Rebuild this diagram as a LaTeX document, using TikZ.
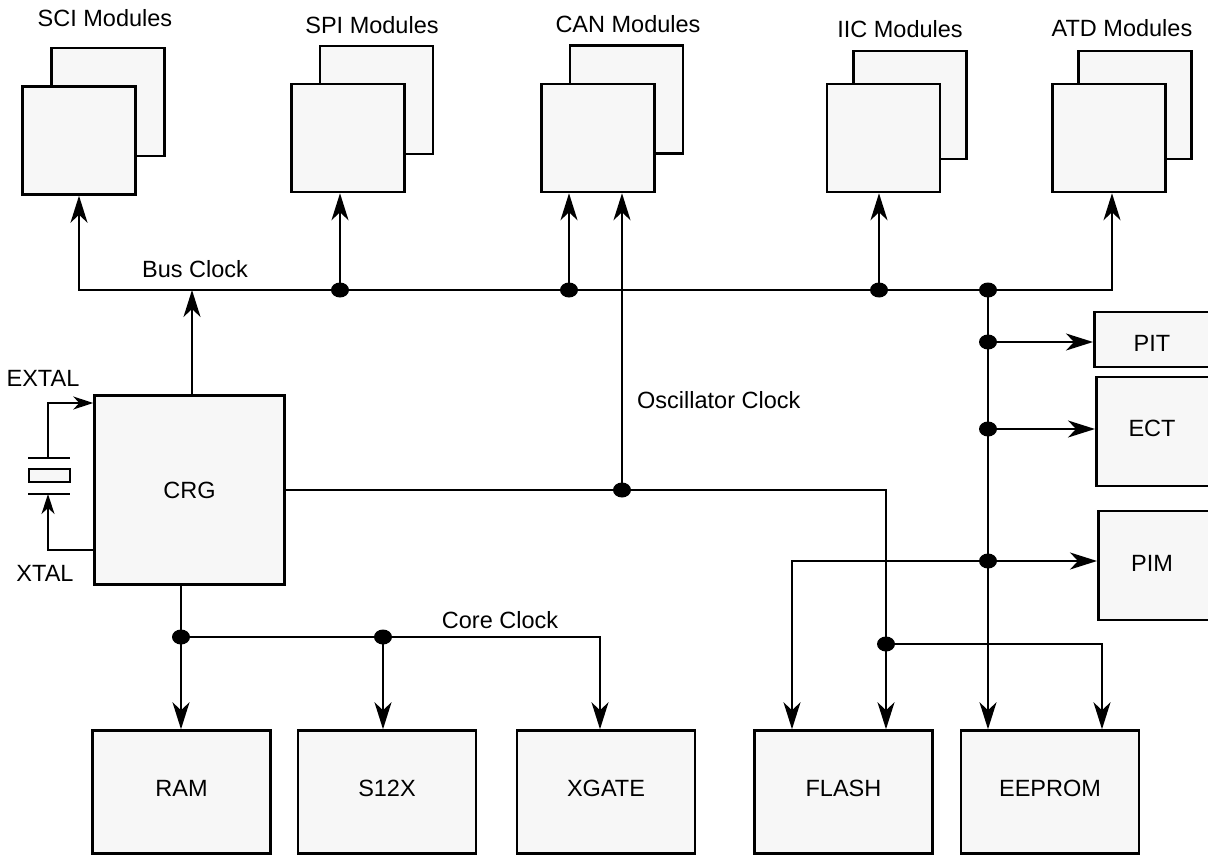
\documentclass[tikz,border=0pt]{standalone}
\usepackage{fontspec}
\setmainfont{Liberation Sans}
\usetikzlibrary{arrows.meta}
\definecolor{boxfill}{HTML}{F7F7F7}
\begin{document}
\begin{tikzpicture}[x=1pt,y=-1pt,
  txt/.style={font=\fontsize{23.5}{28}\selectfont},
  box/.style={draw, line width=2.5pt, fill=boxfill, inner sep=0pt, txt},
  modbox/.style={box, minimum width=113pt, minimum height=108pt},
  membox/.style={box, minimum width=178pt, minimum height=123pt},
  sidebox/.style={box, minimum width=160pt, anchor=west},
  lbl/.style={inner sep=0pt, txt},
  wire/.style={line width=2pt},
  bigtip/.tip={Stealth[length=27pt,width=17pt,inset=8pt]},
  arr/.style={wire, -bigtip},
  thinw/.style={line width=1.5pt},
  smalltip/.tip={Stealth[length=20pt,width=13pt,inset=6pt]},
  sarr/.style={thinw, -smalltip},
  jdot/.style={fill=black}
]
\useasboundingbox (0,0) rectangle (1208,856);
\clip (0,0) rectangle (1208,856);

% module stacks (back boxes first)
\node[modbox] (sciB) at (108,102) {};
\node[modbox] (sci) at (79,140.5) {};
\node[modbox] (spiB) at (376.5,100) {};
\node[modbox] (spi) at (348,138) {};
\node[modbox] (canB) at (626.5,99.5) {};
\node[modbox] (can) at (598,138) {};
\node[modbox] (iicB) at (910,105) {};
\node[modbox] (iic) at (883.5,138) {};
\node[modbox] (atdB) at (1135,105) {};
\node[modbox] (atd) at (1109,138) {};

\node[lbl] (sciL) at (105,18.5) {SCI Modules};
\node[lbl] (spiL) at (372,25) {SPI Modules};
\node[lbl] (canL) at (628,24) {CAN Modules};
\node[lbl] (iicL) at (900,29) {IIC Modules};
\node[lbl] (atdL) at (1122,28) {ATD Modules};

% CRG
\node[box, minimum width=190pt, minimum height=189pt] (crg) at (189.5,490) {CRG};

% memory / core boxes
\node[membox] (ram) at (181.5,792) {};
\node[membox] (s12x) at (387,792) {};
\node[membox] (xgate) at (606,792) {};
\node[membox] (flash) at (843.5,792) {};
\node[membox] (eeprom) at (1050,792) {};
\node[lbl] at (181.5,788) {RAM};
\node[lbl] at (387,788) {S12X};
\node[lbl] at (606,788) {XGATE};
\node[lbl] at (843.5,788) {FLASH};
\node[lbl] at (1050,788) {EEPROM};

% side boxes
\node[sidebox, minimum height=55pt] (pit) at (1093,339.5) {};
\node[sidebox, minimum height=109pt] (ect) at (1095,431.5) {};
\node[sidebox, minimum height=109pt] (pim) at (1097,565.5) {};
\node[lbl] at (1152,343) {PIT};
\node[lbl] at (1152,428) {ECT};
\node[lbl] at (1152,563) {PIM};

% bus clock
\coordinate (busL) at (79,290);
\coordinate (busR) at (1112,290);
\coordinate (jbus) at (192,290);
\coordinate (jspi) at (340,290);
\coordinate (jcan) at (569,290);
\coordinate (jiic) at (879,290);
\coordinate (jright) at (988,290);
\draw[wire, bigtip-bigtip] (sci.south) -- (busL) -- (busR) -- (busR |- atd.south);
\draw[arr] (jbus |- crg.north) -- (jbus);
\draw[arr] (jspi) -- (jspi |- spi.south);
\draw[arr] (jcan) -- (jcan |- can.south);
\draw[arr] (jiic) -- (jiic |- iic.south);
\draw[arr] (jright) -- (jright |- eeprom.north);
\coordinate (jpit) at (988,342);
\coordinate (ject) at (988,429);
\coordinate (jpim) at (988,561);
\draw[arr] (jpit) -- (jpit -| pit.west);
\draw[arr] (ject) -- (ject -| ect.west);
\coordinate (pimL) at (792,561);
\draw[wire, bigtip-bigtip] (pimL |- flash.north) -- (pimL) -- (jpim -| pim.west);

% oscillator clock
\coordinate (josc) at (622,490);
\coordinate (oscR) at (886,490);
\coordinate (jfl) at (886,644);
\coordinate (eeR) at (1102,644);
\draw[arr] (crg.east) -- (oscR) -- (oscR |- flash.north);
\draw[arr] (josc) -- (josc |- can.south);
\draw[arr] (jfl) -- (eeR) -- (eeR |- eeprom.north);

% core clock
\coordinate (jcore) at (181,637);
\coordinate (js12) at (383,637);
\coordinate (coreR) at (600,637);
\draw[arr] (jcore |- crg.south) -- (jcore |- ram.north);
\draw[arr] (jcore) -- (coreR) -- (coreR |- xgate.north);
\draw[arr] (js12) -- (js12 |- s12x.north);

% junction dots
\foreach \p in {jspi,jcan,jiic,jright,jpit,ject,jpim,josc,jfl,jcore,js12}
  \fill[jdot] (\p) ellipse [x radius=9pt, y radius=7.5pt];

% crystal
\coordinate (ex) at (48,403);
\coordinate (xt) at (48,550);
\draw[sarr] (48,458) -- (ex) -- (ex -| crg.west);
\draw[sarr] (xt -| crg.west) -- (xt) -- (48,494);
\draw[thinw] (28,458) -- (70,458);
\draw[thinw] (28,494) -- (70,494);
\draw[thinw, fill=boxfill] (29,469) rectangle (70,482);

% labels
\node[lbl] at (195,269) {Bus Clock};
\node[lbl] at (500,620) {Core Clock};
\node[lbl, anchor=west] at (637,400) {Oscillator Clock};
\node[lbl] at (43,378) {EXTAL};
\node[lbl] at (45,573) {XTAL};
\end{tikzpicture}
\end{document}
